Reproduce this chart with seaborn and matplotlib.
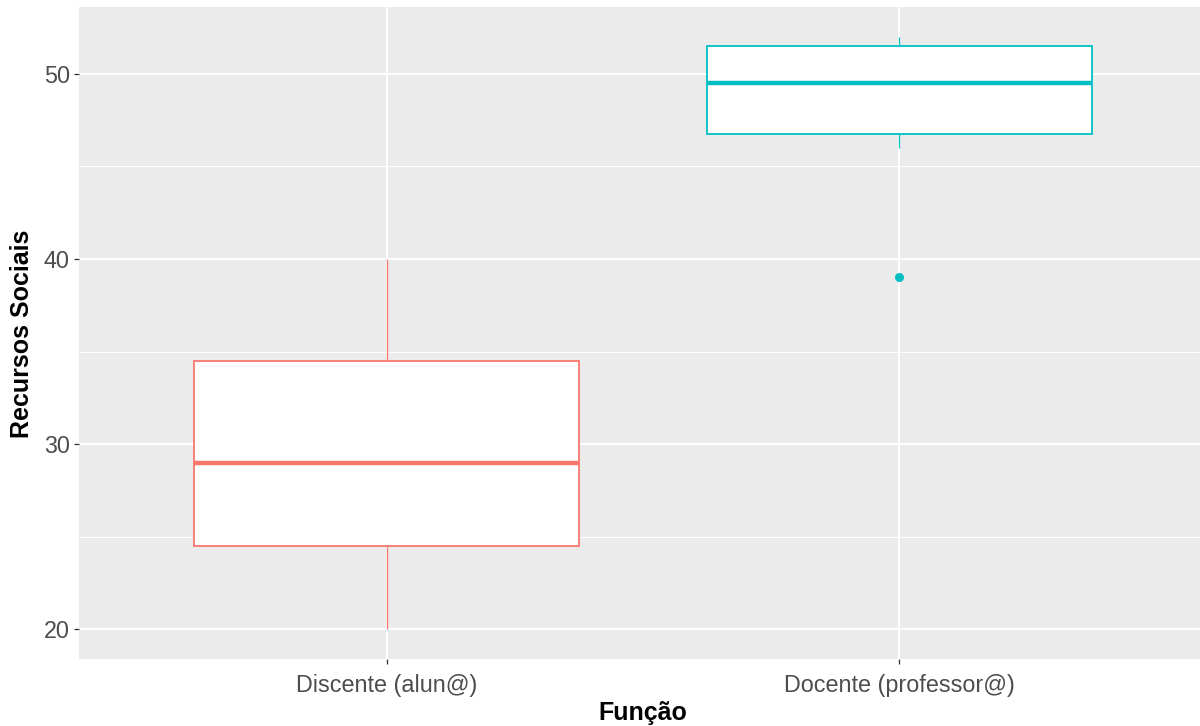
import matplotlib
matplotlib.use("Agg")
import matplotlib.pyplot as plt
from matplotlib.ticker import FixedLocator
import seaborn as sns
import pandas as pd

# Scores per group
categorias = ["Discente (alun@)", "Docente (professor@)"]
discente = [20, 24.5, 29, 34.5, 40]
docente = [39, 46, 46.75, 48, 49.5, 50.5, 51.5, 52, 52]
cores = ["#F8766D", "#00BFC4"]

df = pd.DataFrame({
    "Função": [categorias[0]] * len(discente) + [categorias[1]] * len(docente),
    "Recursos Sociais": discente + docente,
})

sns.set_theme(style="darkgrid", rc={
    "axes.facecolor": "#EBEBEB",
    "grid.color": "white",
})
plt.rcParams["font.family"] = ["Liberation Sans", "DejaVu Sans"]

fig = plt.figure(figsize=(12, 7.26), dpi=100)
ax = fig.add_axes([79 / 1200, 67 / 726, 1128 / 1200, 652 / 726])

sns.boxplot(
    data=df, x="Função", y="Recursos Sociais", hue="Função",
    palette=dict(zip(categorias, cores)), order=categorias, hue_order=categorias,
    width=0.75, linewidth=1.1, fliersize=6, whis=1.5, legend=False, ax=ax,
)

# ggplot-like styling: white boxes, coloured outlines, no caps
for cont, cor in zip(ax.containers, cores):
    for b in cont.boxes:
        b.set_facecolor("white")
        b.set_edgecolor(cor)
        b.set_linewidth(1.3)
        b.set_zorder(3)
    for w in cont.whiskers:
        w.set_color(cor)
        w.set_linewidth(0.9)
        w.set_zorder(2.5)
    for c in cont.caps:
        c.set_visible(False)
    for m in cont.medians:
        m.set_color(cor)
        m.set_linewidth(3.2)
        m.set_solid_capstyle("butt")
        m.set_zorder(4)
    for f in cont.fliers:
        f.set_marker("o")
        f.set_markerfacecolor(cor)
        f.set_markeredgecolor(cor)
        f.set_markersize(5.5)
        f.set_zorder(4)

ax.set_xlim(-0.6, 1.6)
ax.set_ylim(18.4, 53.6)
ax.yaxis.set_major_locator(FixedLocator([20, 30, 40, 50]))
ax.yaxis.set_minor_locator(FixedLocator([25, 35, 45]))
ax.grid(True, which="major", color="white", linewidth=1.4)
ax.grid(True, which="minor", axis="y", color="white", linewidth=0.7)
ax.set_axisbelow(True)
for s in ax.spines.values():
    s.set_visible(False)

ax.tick_params(axis="both", which="major", length=3.5, width=0.9, color="#333333",
               labelsize=16.8, labelcolor="#4D4D4D")
ax.tick_params(axis="y", which="major", pad=3)
ax.tick_params(axis="x", which="major", pad=7)
ax.tick_params(axis="y", which="minor", length=0)
ax.tick_params(left=True, bottom=True)

ax.set_xlabel("Função", fontsize=18, fontweight="bold", color="black", va="center")
ax.set_ylabel("Recursos Sociais", fontsize=18, fontweight="bold", color="black", va="center")
ax.xaxis.set_label_coords((643 - 79) / 1128, -(713 - 659) / 652)
ax.yaxis.set_label_coords((22 - 79) / 1128, (659 - 334) / 652)

fig.savefig("out.png", dpi=100)
